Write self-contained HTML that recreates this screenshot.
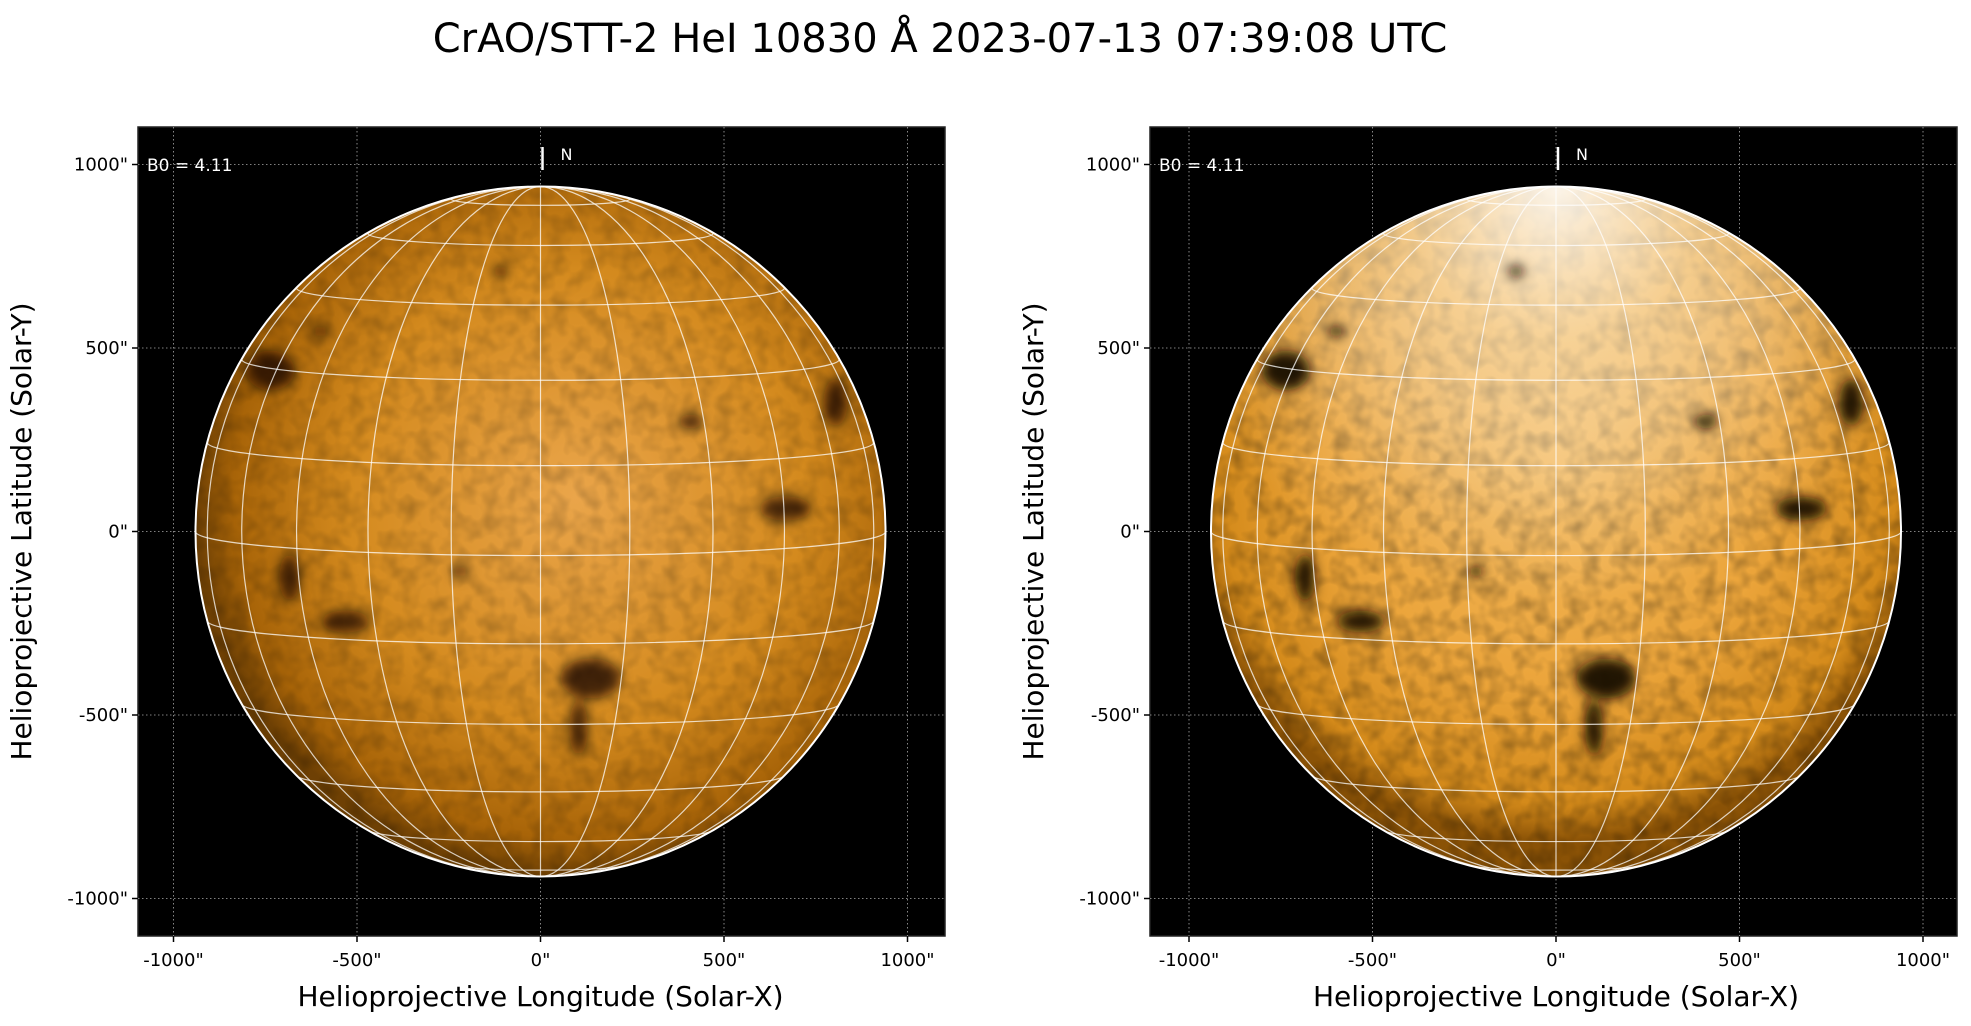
<!DOCTYPE html>
<html><head><meta charset="utf-8"><style>
html,body{margin:0;padding:0;background:#fff;}
svg{display:block;font-family:"DejaVu Sans","Liberation Sans",sans-serif;}
</style></head><body>
<svg id="s" width="1971" height="1026" viewBox="0 0 1971 1026" xmlns="http://www.w3.org/2000/svg">
<defs>
<radialGradient id="gL" cx="0.55" cy="0.45" r="0.55">
<stop offset="0" stop-color="#eaa54a"/><stop offset="0.6" stop-color="#d48a1e"/><stop offset="0.9" stop-color="#a86408"/><stop offset="1" stop-color="#6e4004"/>
</radialGradient>
<radialGradient id="gR" cx="0.5" cy="0.4" r="0.55">
<stop offset="0" stop-color="#f3b95e"/><stop offset="0.6" stop-color="#eba43a"/><stop offset="0.9" stop-color="#d48a1a"/><stop offset="1" stop-color="#8a5206"/>
</radialGradient>
<radialGradient id="wR" cx="0.5" cy="0" r="0.75">
<stop offset="0" stop-color="#fff" stop-opacity="0.9"/><stop offset="0.3" stop-color="#fff5e0" stop-opacity="0.5"/><stop offset="0.65" stop-color="#fff" stop-opacity="0.1"/><stop offset="0.8" stop-color="#fff" stop-opacity="0"/>
</radialGradient>
<filter id="tex" x="0" y="0" width="1" height="1">
<feTurbulence type="fractalNoise" baseFrequency="0.06" numOctaves="2" seed="3"/>
<feColorMatrix type="matrix" values="0 0 0 0 0  0 0 0 0 0  0 0 0 0 0  0 0 0 -1.2 0.75"/>
</filter>
<filter id="bl"><feGaussianBlur stdDeviation="6"/></filter>
<clipPath id="cL"><circle cx="540.5" cy="531.5" r="345"/></clipPath>
<clipPath id="cR"><circle cx="1556" cy="531.5" r="345"/></clipPath>
</defs>
<text x="940" y="52" font-size="40" text-anchor="middle" fill="#000">CrAO/STT-2 HeI 10830 Å 2023-07-13 07:39:08 UTC</text>
<g id="panels"></g>
</svg>
<script>
const s=document.getElementById('panels');
let h='';
function panel(ax,cx,cy,grad,clip,strong){
 const ay=127,W=807,H=809,R=345,k=0.367;
 h+=`<rect x="${ax}" y="${ay}" width="${W}" height="${H}" fill="#000" stroke="#222" stroke-width="1.5"/>`;
 for(const v of [-1000,-500,0,500,1000]){
  const x=cx+v*k,y=cy-v*k;
  h+=`<line x1="${x}" y1="${ay}" x2="${x}" y2="${ay+H}" stroke="#aaa" stroke-width="0.8" stroke-dasharray="1.5,2.5"/>`;
  h+=`<line x1="${ax}" y1="${y}" x2="${ax+W}" y2="${y}" stroke="#aaa" stroke-width="0.8" stroke-dasharray="1.5,2.5"/>`;
  h+=`<line x1="${x}" y1="${ay+H}" x2="${x}" y2="${ay+H+6}" stroke="#000" stroke-width="1.5"/>`;
  h+=`<line x1="${ax-6}" y1="${y}" x2="${ax}" y2="${y}" stroke="#000" stroke-width="1.5"/>`;
  h+=`<text x="${x}" y="${ay+H+30}" font-size="18" text-anchor="middle">${v}"</text>`;
  h+=`<text x="${ax-10}" y="${y+6}" font-size="18" text-anchor="end">${v}"</text>`;
 }
 h+=`<g clip-path="url(#${clip})">`;
 h+=`<circle cx="${cx}" cy="${cy}" r="${R}" fill="url(#${grad})"/>`;
 h+=`<rect x="${cx-R}" y="${cy-R}" width="${2*R}" height="${2*R}" filter="url(#tex)" opacity="${strong?0.45:0.3}"/>`;
 if(strong) h+=`<circle cx="${cx}" cy="${cy}" r="${R}" fill="url(#wR)"/>`;
 const spots=[[-270,-161,24,20],[50,147,30,20],[38,197,9,28],[-195,90,24,11],[245,-23,26,12],[295,-129,12,24],[-251,46,10,24],[-80,40,8,6],[150,-110,12,7],[-40,-260,8,6],[-220,-200,8,6]];
 h+=`<g filter="url(#bl)">`;
 for(const [dx,dy,rx,ry] of spots) h+=`<ellipse cx="${cx+dx}" cy="${cy+dy}" rx="${rx}" ry="${ry}" fill="#140800" opacity="${strong?0.95:0.75}"/>`;
 h+=`</g>`;
 const B=4*Math.PI/180;
 for(let l=-75;l<=75;l+=15){
  const a=l*Math.PI/180; const rx=Math.abs(R*Math.sin(a));
  if(l===0){h+=`<line x1="${cx}" y1="${cy-R}" x2="${cx}" y2="${cy+R}" stroke="#fff" stroke-opacity="0.75" stroke-width="1.2"/>`;continue;}
  const sw=l>0?1:0;
  h+=`<path d="M${cx} ${cy-R} A${rx} ${R} 0 0 ${sw} ${cx} ${cy+R}" fill="none" stroke="#fff" stroke-opacity="0.75" stroke-width="1.2"/>`;
 }
 for(let l=-75;l<=75;l+=15){
  const a=l*Math.PI/180; const rx=R*Math.cos(a), ry=R*Math.cos(a)*Math.sin(B);
  const y=cy-R*Math.sin(a)*Math.cos(B);
  h+=`<path d="M${cx-rx} ${y} A${rx} ${Math.max(ry,0.1)} 0 0 0 ${cx+rx} ${y}" fill="none" stroke="#fff" stroke-opacity="0.75" stroke-width="1.2"/>`;
 }
 h+=`</g>`;
 h+=`<circle cx="${cx}" cy="${cy}" r="${R}" fill="none" stroke="#fff" stroke-width="2"/>`;
 h+=`<line x1="${cx+2}" y1="147" x2="${cx+2}" y2="170" stroke="#fff" stroke-width="2.5"/>`;
 h+=`<text x="${cx+20}" y="160" font-size="16" fill="#fff">N</text>`;
 h+=`<text x="${ax+9}" y="171" font-size="17" fill="#fff">B0 = 4.11</text>`;
 h+=`<text x="${cx}" y="1006" font-size="28" text-anchor="middle">Helioprojective Longitude (Solar-X)</text>`;
 h+=`<text transform="translate(${ax-107},${cy}) rotate(-90)" font-size="28" text-anchor="middle">Helioprojective Latitude (Solar-Y)</text>`;
}
panel(138,540.5,531.5,'gL','cL',false);
panel(1150,1556,531.5,'gR','cR',true);
s.innerHTML=h;
</script>
</body></html>
